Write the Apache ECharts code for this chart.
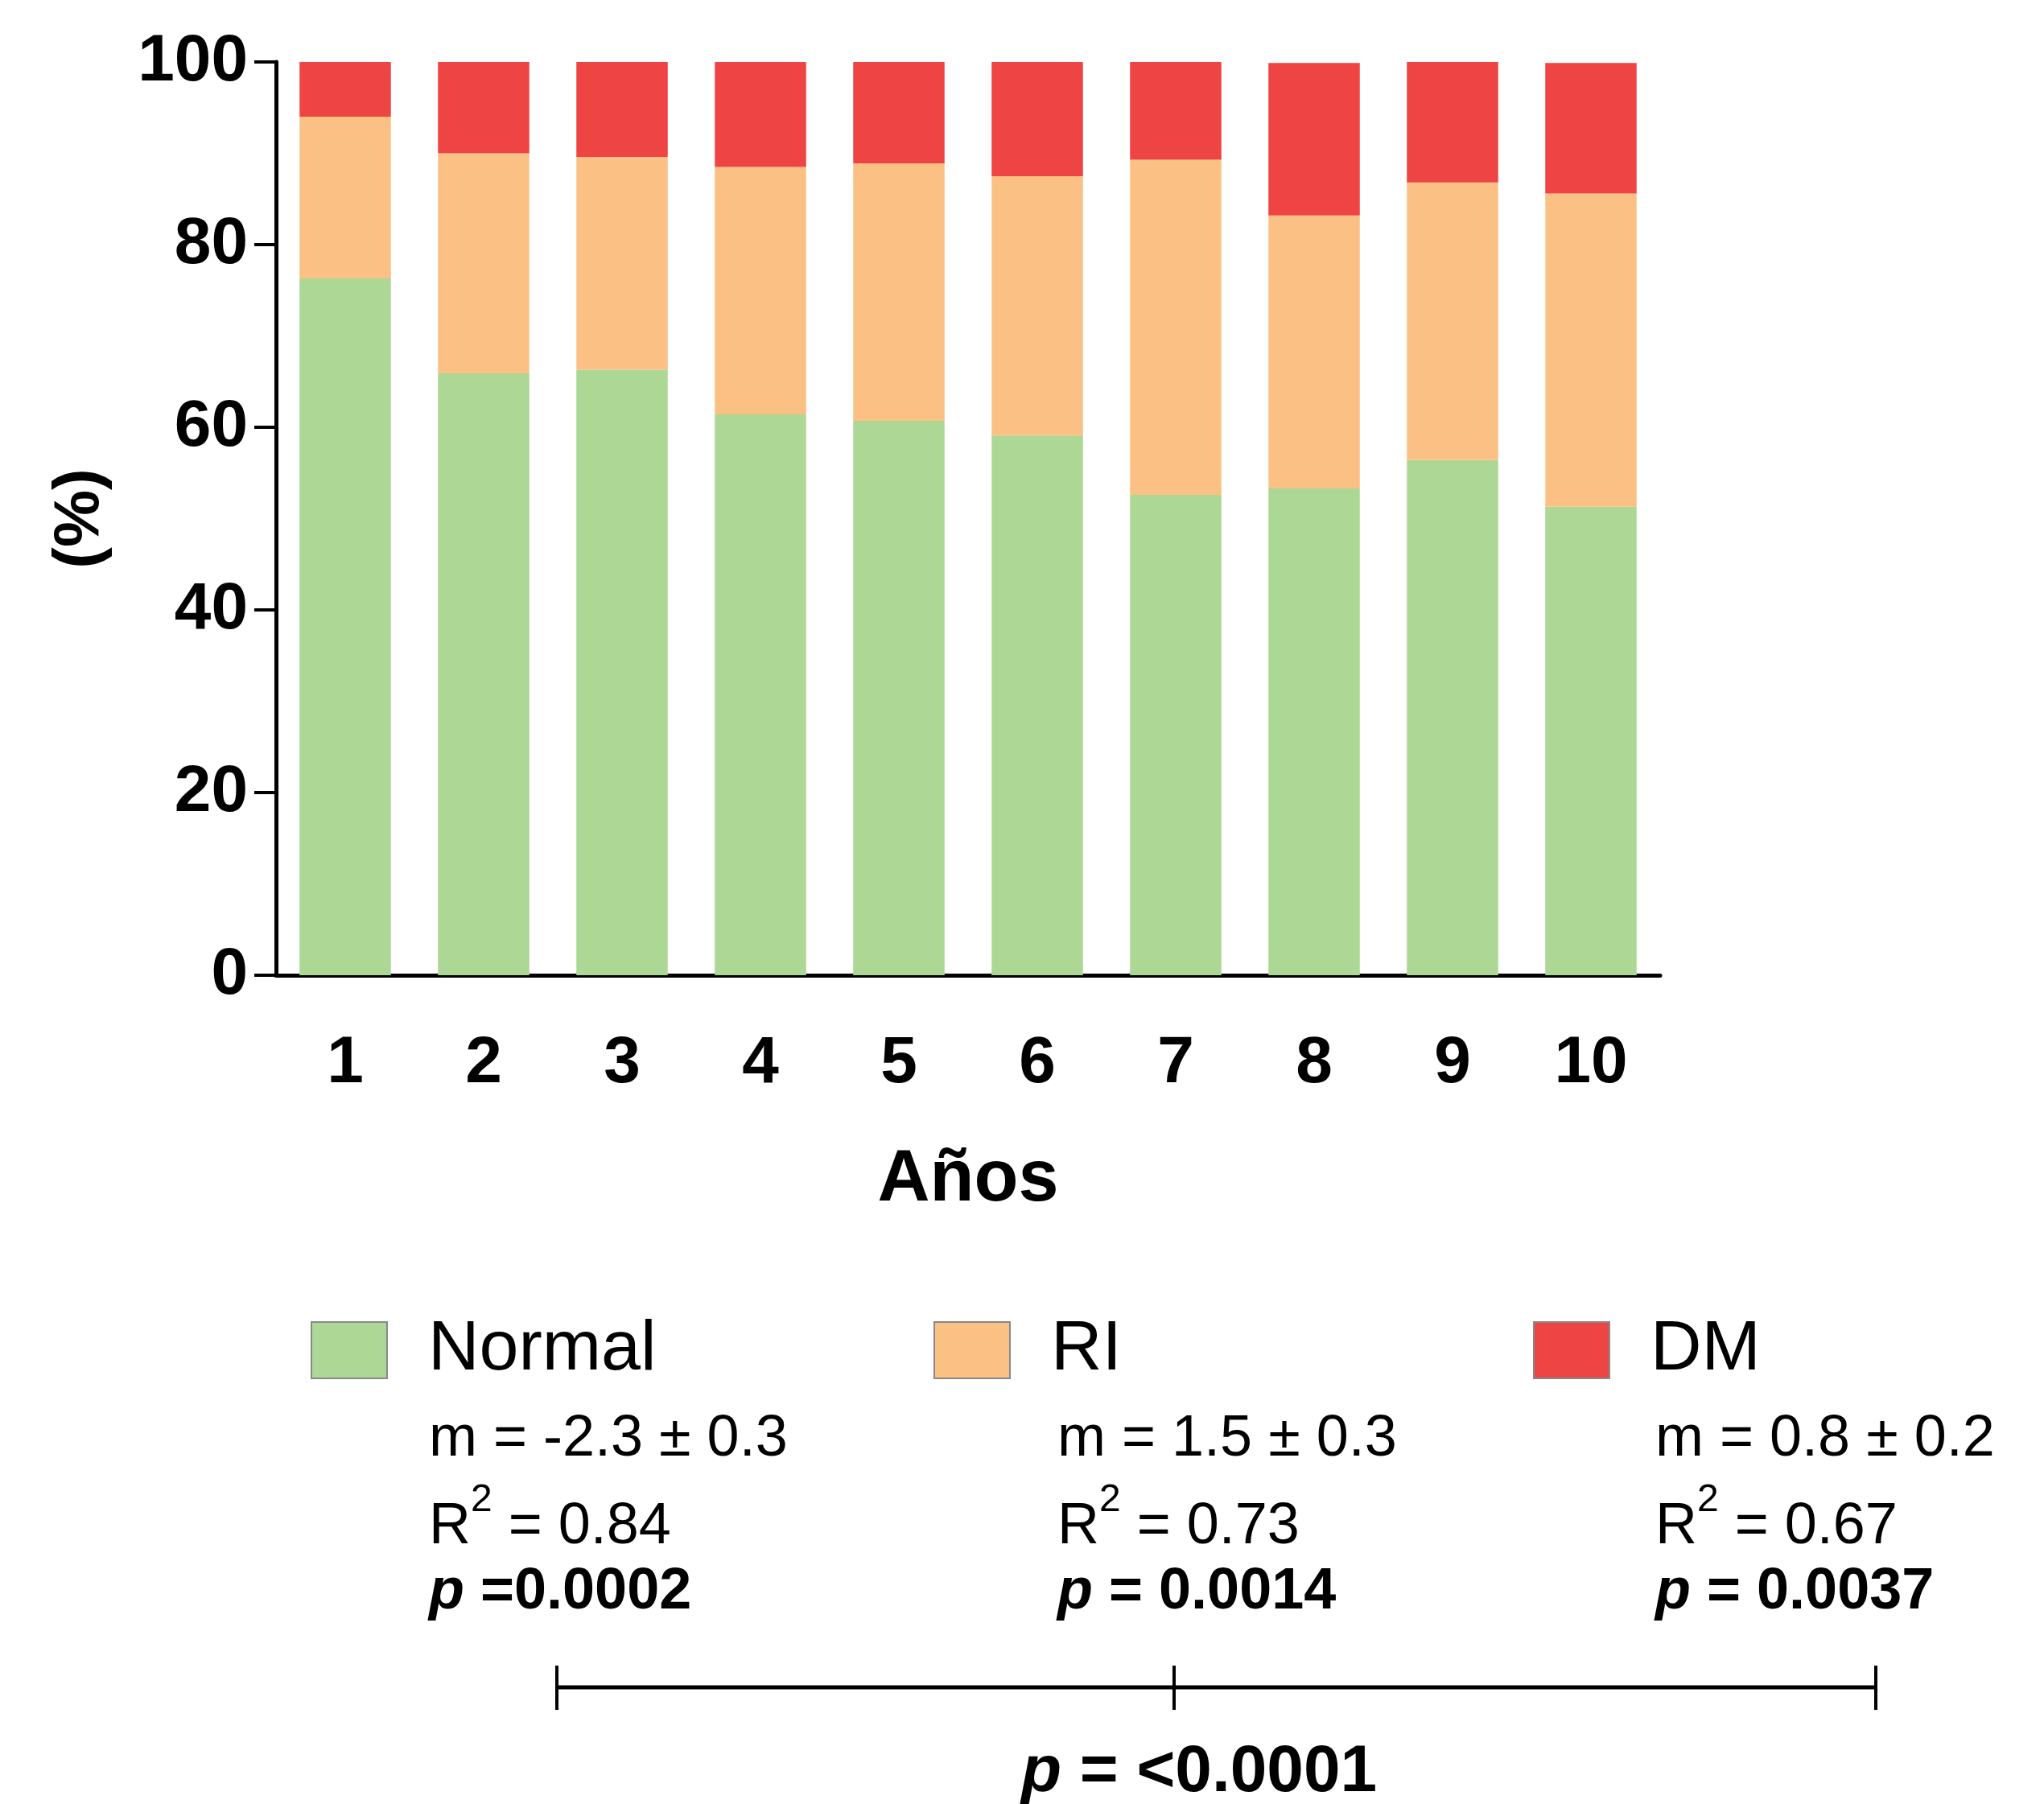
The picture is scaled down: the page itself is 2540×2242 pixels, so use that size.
<!DOCTYPE html>
<html>
<head>
<meta charset="utf-8">
<script src="https://cdn.jsdelivr.net/npm/echarts@6/dist/echarts.min.js"></script>
<style>
  html, body { margin: 0; padding: 0; background: #fff; }
  #chart { width: 2540px; height: 2242px; }
</style>
</head>
<body>
<div id="chart"></div>
<script>
  const years = ['1', '2', '3', '4', '5', '6', '7', '8', '9', '10']
  const normal = [76.3, 65.9, 66.3, 61.4, 60.7, 59.1, 52.6, 53.3, 56.4, 51.3]
  const ri = [17.7, 24.1, 23.3, 27.1, 28.2, 28.4, 36.7, 29.9, 30.4, 34.3]
  const dm = [6.0, 10.0, 10.4, 11.5, 11.1, 12.5, 10.7, 16.7, 13.2, 14.3]
  const yTicks = [0, 20, 40, 60, 80, 100]

  const font = '"Liberation Sans", Arial, Helvetica, sans-serif'
  const green = '#add795'
  const orange = '#fbc184'
  const red = '#ef4444'

  // stats under each legend entry: [x, slope, r2, p]
  const stats = [
    [533, 'm = -2.3 ± 0.3', ' = 0.84', ' =0.0002'],
    [1314, 'm = 1.5 ± 0.3', ' = 0.73', ' = 0.0014'],
    [2057, 'm = 0.8 ± 0.2', ' = 0.67', ' = 0.0037']
  ]

  const chart = echarts.init(document.getElementById('chart'))

  function txt(x, y, text, rich) {
    return {
      type: 'text',
      x: x,
      y: y,
      style: {
        text: text,
        fontFamily: font,
        fontSize: 72,
        fill: '#000',
        verticalAlign: 'middle',
        align: 'left',
        rich: rich
      }
    }
  }

  const graphics = []
  stats.forEach(function (s) {
    graphics.push(txt(s[0], 1789, s[1]))
    graphics.push(txt(s[0], 1898, '{n|R}{s|2}{n|' + s[2] + '}', {
      n: { fontSize: 72, lineHeight: 114, fontFamily: font },
      s: { fontSize: 48, lineHeight: 48, verticalAlign: 'top', fontFamily: font }
    }))
    graphics.push(txt(s[0], 1979, '{p|p}{b|' + s[3] + '}', {
      p: { fontSize: 72, fontStyle: 'italic', fontWeight: 'bold', fontFamily: font },
      b: { fontSize: 72, fontWeight: 'bold', fontFamily: font }
    }))
  })

  // bracket comparing the three groups
  graphics.push({ type: 'line', shape: { x1: 692, y1: 2097, x2: 2331, y2: 2097 }, style: { stroke: '#000', lineWidth: 5 } })
  ;[692, 1459, 2331].forEach(function (x) {
    graphics.push({ type: 'line', shape: { x1: x, y1: 2070, x2: x, y2: 2125 }, style: { stroke: '#000', lineWidth: 4 } })
  })
  const pAll = txt(1490, 2203, '{p|p}{b| = <0.0001}', {
    p: { fontSize: 82, fontStyle: 'italic', fontWeight: 'bold', fontFamily: font },
    b: { fontSize: 82, fontWeight: 'bold', fontFamily: font }
  })
  pAll.style.align = 'center'
  graphics.push(pAll)

  function legend(name, left) {
    return {
      data: [name],
      left: left,
      top: 1634,
      padding: 0,
      icon: 'rect',
      itemWidth: 94,
      itemHeight: 70,
      itemStyle: { borderColor: '#888', borderWidth: 2 },
      selectedMode: false,
      textStyle: { fontFamily: font, fontSize: 88, color: '#000', padding: [0, 0, 0, 46] }
    }
  }

  chart.setOption({
    backgroundColor: '#fff',
    animation: false,
    textStyle: { fontFamily: font },
    grid: { left: 343, right: 477, top: 77, bottom: 1030, containLabel: false },
    legend: [legend('Normal', 386), legend('RI', 1160), legend('DM', 1905)],
    xAxis: {
      type: 'category',
      data: years,
      name: 'Años',
      nameLocation: 'middle',
      nameGap: 210,
      nameTextStyle: { fontSize: 90, fontWeight: 'bold', color: '#000', fontFamily: font },
      axisLine: { lineStyle: { color: '#000', width: 5 } },
      axisTick: { show: false },
      axisLabel: { fontSize: 82, fontWeight: 'bold', color: '#000', margin: 69, fontFamily: font }
    },
    yAxis: {
      type: 'value',
      min: yTicks[0],
      max: yTicks[yTicks.length - 1],
      interval: 20,
      name: '(%)',
      nameLocation: 'middle',
      nameRotate: 90,
      nameGap: 203,
      nameTextStyle: { fontSize: 80, fontWeight: 'bold', color: '#000', fontFamily: font },
      axisLine: { show: true, lineStyle: { color: '#000', width: 5 } },
      axisTick: { show: true, length: 27, lineStyle: { color: '#000', width: 4 } },
      axisLabel: { fontSize: 82, fontWeight: 'bold', color: '#000', margin: 35, fontFamily: font },
      splitLine: { show: false }
    },
    series: [
      { name: 'Normal', type: 'bar', stack: 'total', barWidth: '66%', data: normal, itemStyle: { color: green } },
      { name: 'RI', type: 'bar', stack: 'total', barWidth: '66%', data: ri, itemStyle: { color: orange } },
      { name: 'DM', type: 'bar', stack: 'total', barWidth: '66%', data: dm, itemStyle: { color: red } }
    ],
    graphic: graphics
  })
</script>
</body>
</html>
